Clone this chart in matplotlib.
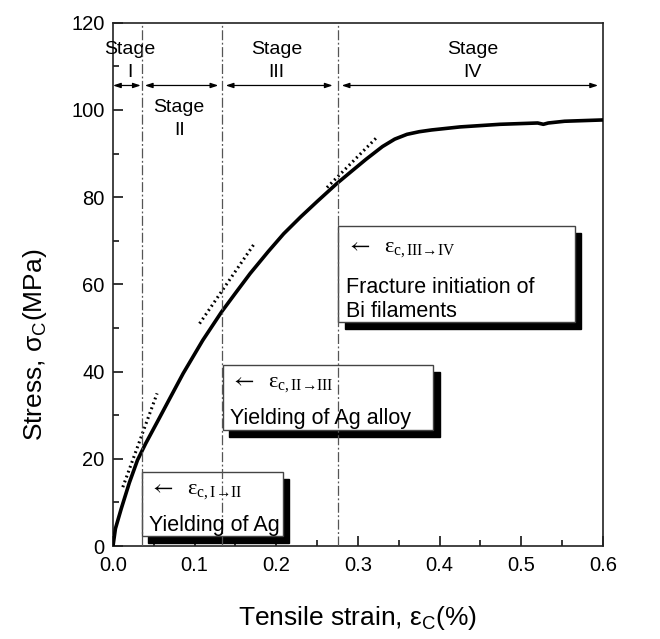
import matplotlib
matplotlib.use("Agg")
import matplotlib.pyplot as plt
from matplotlib.patches import Rectangle
from matplotlib.ticker import MultipleLocator, FormatStrFormatter

plt.rcParams['font.family'] = ['Liberation Sans', 'DejaVu Sans']

# stress-strain curve
strain = [0, 0.003, 0.01, 0.02, 0.03, 0.04, 0.0555, 0.07, 0.086, 0.11, 0.133, 0.15,
          0.168, 0.19, 0.209, 0.23, 0.25, 0.274, 0.29, 0.31, 0.33, 0.345, 0.36,
          0.375, 0.39, 0.425, 0.474, 0.52, 0.527, 0.533, 0.553, 0.6]
stress = [0, 4, 8.5, 14.5, 19.7, 23.5, 28.9, 34, 39.6, 47.2, 53.7, 58,
          62.5, 67.5, 71.6, 75.5, 79.0, 83.1, 85.6, 88.7, 91.6, 93.3, 94.4,
          95.0, 95.4, 96.1, 96.7, 97.0, 96.7, 97.0, 97.4, 97.7]

# dotted linear fits (start, end)
fit_strain = [(0.012, 0.054), (0.106, 0.173), (0.262, 0.322)]
fit_stress = [(13.5, 35.0), (51.0, 69.3), (82.2, 93.5)]

# stage boundaries
boundaries = [0.036, 0.134, 0.275]
stage_names = ['Stage\nI', 'Stage\nII', 'Stage\nIII', 'Stage\nIV']
stage_x = [0.021, 0.081, 0.2, 0.44]
stage_y = [111.3, 98.0, 111.3, 111.3]
arrow_spans = [(0.0, 0.034), (0.039, 0.129), (0.138, 0.269), (0.280, 0.594)]

# annotation boxes: (x0, x1, y0, y1), subscript text, description lines
boxes = [(0.0351, 0.2078, 2.3, 17.0), (0.1343, 0.3922, 26.7, 41.5), (0.2759, 0.5657, 51.4, 73.3)]
box_subs = ['c, I→II', 'c, II→III', 'c, III→IV']
box_lines = [['Yielding of Ag'], ['Yielding of Ag alloy'], ['Fracture initiation of', 'Bi filaments']]

fig = plt.figure(figsize=(6.6, 6.39), dpi=100)
ax = fig.add_axes([0.1712, 0.1455, 0.7424, 0.819])

ax.plot(strain, stress, color='black', lw=2.6, zorder=5)
for xs, ys in zip(fit_strain, fit_stress):
    ax.plot(xs, ys, color='black', lw=2.2, ls=(0, (0.6, 1.1)), zorder=4)

for b in boundaries:
    ax.axvline(b, color='#555555', lw=0.9, ls=(0, (8, 2, 1.5, 2)), zorder=6)

for name, x, y in zip(stage_names, stage_x, stage_y):
    ax.text(x, y, name, ha='center', va='center', fontsize=14, linespacing=1.45)
for x0, x1 in arrow_spans:
    ax.annotate('', xy=(x1, 105.6), xytext=(x0, 105.6),
                arrowprops=dict(arrowstyle='<|-|>,head_length=0.45,head_width=0.15',
                                color='black', lw=0.9, shrinkA=0, shrinkB=0))

serif = ['Liberation Serif', 'DejaVu Serif']

# boxes with drop shadow
dx, dy = 0.008, 1.6
for (x0, x1, y0, y1), sub, lines in zip(boxes, box_subs, box_lines):
    ax.add_patch(Rectangle((x0 + dx, y0 - dy), x1 - x0, y1 - y0, facecolor='black',
                           edgecolor='black', zorder=2))
    ax.add_patch(Rectangle((x0, y0), x1 - x0, y1 - y0, facecolor='white',
                           edgecolor='#444444', lw=1.0, zorder=3))
    tx = x0 + 0.009
    h = y1 - y0
    eps = '$\\leftarrow$  ε$_{\\mathregular{' + sub + '}}$'
    if len(lines) == 1:
        ax.text(tx, y0 + 0.70 * h, eps, fontsize=16, family=serif, math_fontfamily='stix',
                va='center', zorder=7)
        ax.text(tx, y0 + 0.17 * h, lines[0], fontsize=15.5, va='center', zorder=7)
    else:
        ax.text(tx, y0 + 0.76 * h, eps, fontsize=16, family=serif, math_fontfamily='stix',
                va='center', zorder=7)
        ax.text(tx, y0 + 0.36 * h, lines[0], fontsize=15.5, va='center', zorder=7)
        ax.text(tx, y0 + 0.11 * h, lines[1], fontsize=15.5, va='center', zorder=7)

ax.set_xlim(0, 0.6)
ax.set_ylim(0, 120)
ax.xaxis.set_major_locator(MultipleLocator(0.1))
ax.xaxis.set_minor_locator(MultipleLocator(0.05))
ax.yaxis.set_major_locator(MultipleLocator(20))
ax.yaxis.set_minor_locator(MultipleLocator(10))
ax.xaxis.set_major_formatter(FormatStrFormatter('%.1f'))
ax.tick_params(which='both', direction='in', top=False, right=False, labelsize=14.5, width=1.1)
ax.tick_params(which='major', length=7)
ax.tick_params(which='minor', length=4.5)
ax.tick_params(axis='x', pad=7)
ax.tick_params(axis='y', pad=6)
for s in ax.spines.values():
    s.set_linewidth(1.2)
    s.set_color('#222222')

ax.set_xlabel('Tensile strain, ε$_\\mathregular{C}$(%)', fontsize=19, va='center')
ax.xaxis.set_label_coords(0.5, -0.137)
ax.set_ylabel('Stress, σ$_\\mathregular{C}$(MPa)', fontsize=19, va='center')
ax.yaxis.set_label_coords(-0.159, 0.385)

fig.savefig('out.png', dpi=100)
